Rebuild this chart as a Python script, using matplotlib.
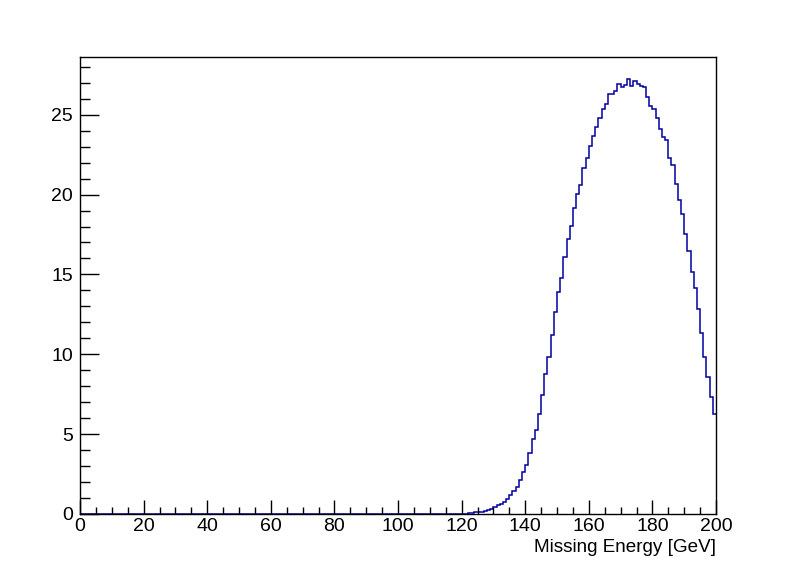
import numpy as np
import matplotlib
matplotlib.use("Agg")
import matplotlib.pyplot as plt
from matplotlib.ticker import MultipleLocator

# histogram: 200 bins of 1 GeV from 0 to 200
bin_edges = np.arange(0, 201, 1)

# bins 0..119 are empty
empty_bins = [0.0] * 120

# bins 120..199
filled_bins = [
    0.03, 0.0, 0.05, 0.05, 0.12, 0.12, 0.12, 0.19, 0.25, 0.31,
    0.44, 0.54, 0.60, 0.75, 0.94, 1.17, 1.42, 1.69, 2.10, 2.62,
    3.04, 3.79, 4.67, 5.29, 6.29, 7.43, 8.79, 9.85, 11.23, 12.67,
    13.92, 14.79, 16.06, 17.19, 18.04, 19.17, 20.04, 20.60, 21.67, 22.29,
    23.04, 23.67, 24.23, 24.79, 25.35, 25.67, 26.29, 26.29, 26.46, 26.92,
    26.71, 26.88, 27.25, 26.81, 27.10, 26.92, 26.77, 26.71, 26.10, 25.54,
    25.35, 24.79, 24.10, 23.60, 23.40, 22.29, 21.85, 20.67, 19.69, 18.79,
    17.54, 16.48, 15.17, 14.17, 12.85, 11.35, 9.85, 8.56, 7.31, 6.25,
]

counts = np.array(empty_bins + filled_bins)

x_label = "Missing Energy [GeV]"

plt.rcParams["font.family"] = ["Liberation Sans", "DejaVu Sans"]

fig = plt.figure(figsize=(7.96, 5.72), dpi=100)
ax = fig.add_axes([80 / 796, 58 / 572, 636 / 796, 457 / 572])

# the histogram line (no drop at the ends, frame stays black)
ax.stairs(counts, bin_edges, color="#0000a0", linewidth=1.1, baseline=None)

ax.set_xlim(0, 200)
ax.set_ylim(0, counts.max() * 1.05)

# ROOT style ticks: inward, left and bottom only
ax.xaxis.set_major_locator(MultipleLocator(20))
ax.xaxis.set_minor_locator(MultipleLocator(5))
ax.yaxis.set_major_locator(MultipleLocator(5))
ax.yaxis.set_minor_locator(MultipleLocator(1))

ax.tick_params(axis="x", which="major", direction="in", length=9.9, width=1,
               top=False, labelsize=14, pad=3)
ax.tick_params(axis="x", which="minor", direction="in", length=5, width=1, top=False)
ax.tick_params(axis="y", which="major", direction="in", length=13.7, width=1,
               right=False, labelsize=14, pad=5)
ax.tick_params(axis="y", which="minor", direction="in", length=6.9, width=1, right=False)

for s in ax.spines.values():
    s.set_linewidth(1)
    s.set_color("black")
    s.set_zorder(5)

# axis title, right aligned under the axis end
fig.text(716 / 796, 1 - 548 / 572, x_label, ha="right", va="center", fontsize=13.6)

fig.savefig("out.png", dpi=100)
